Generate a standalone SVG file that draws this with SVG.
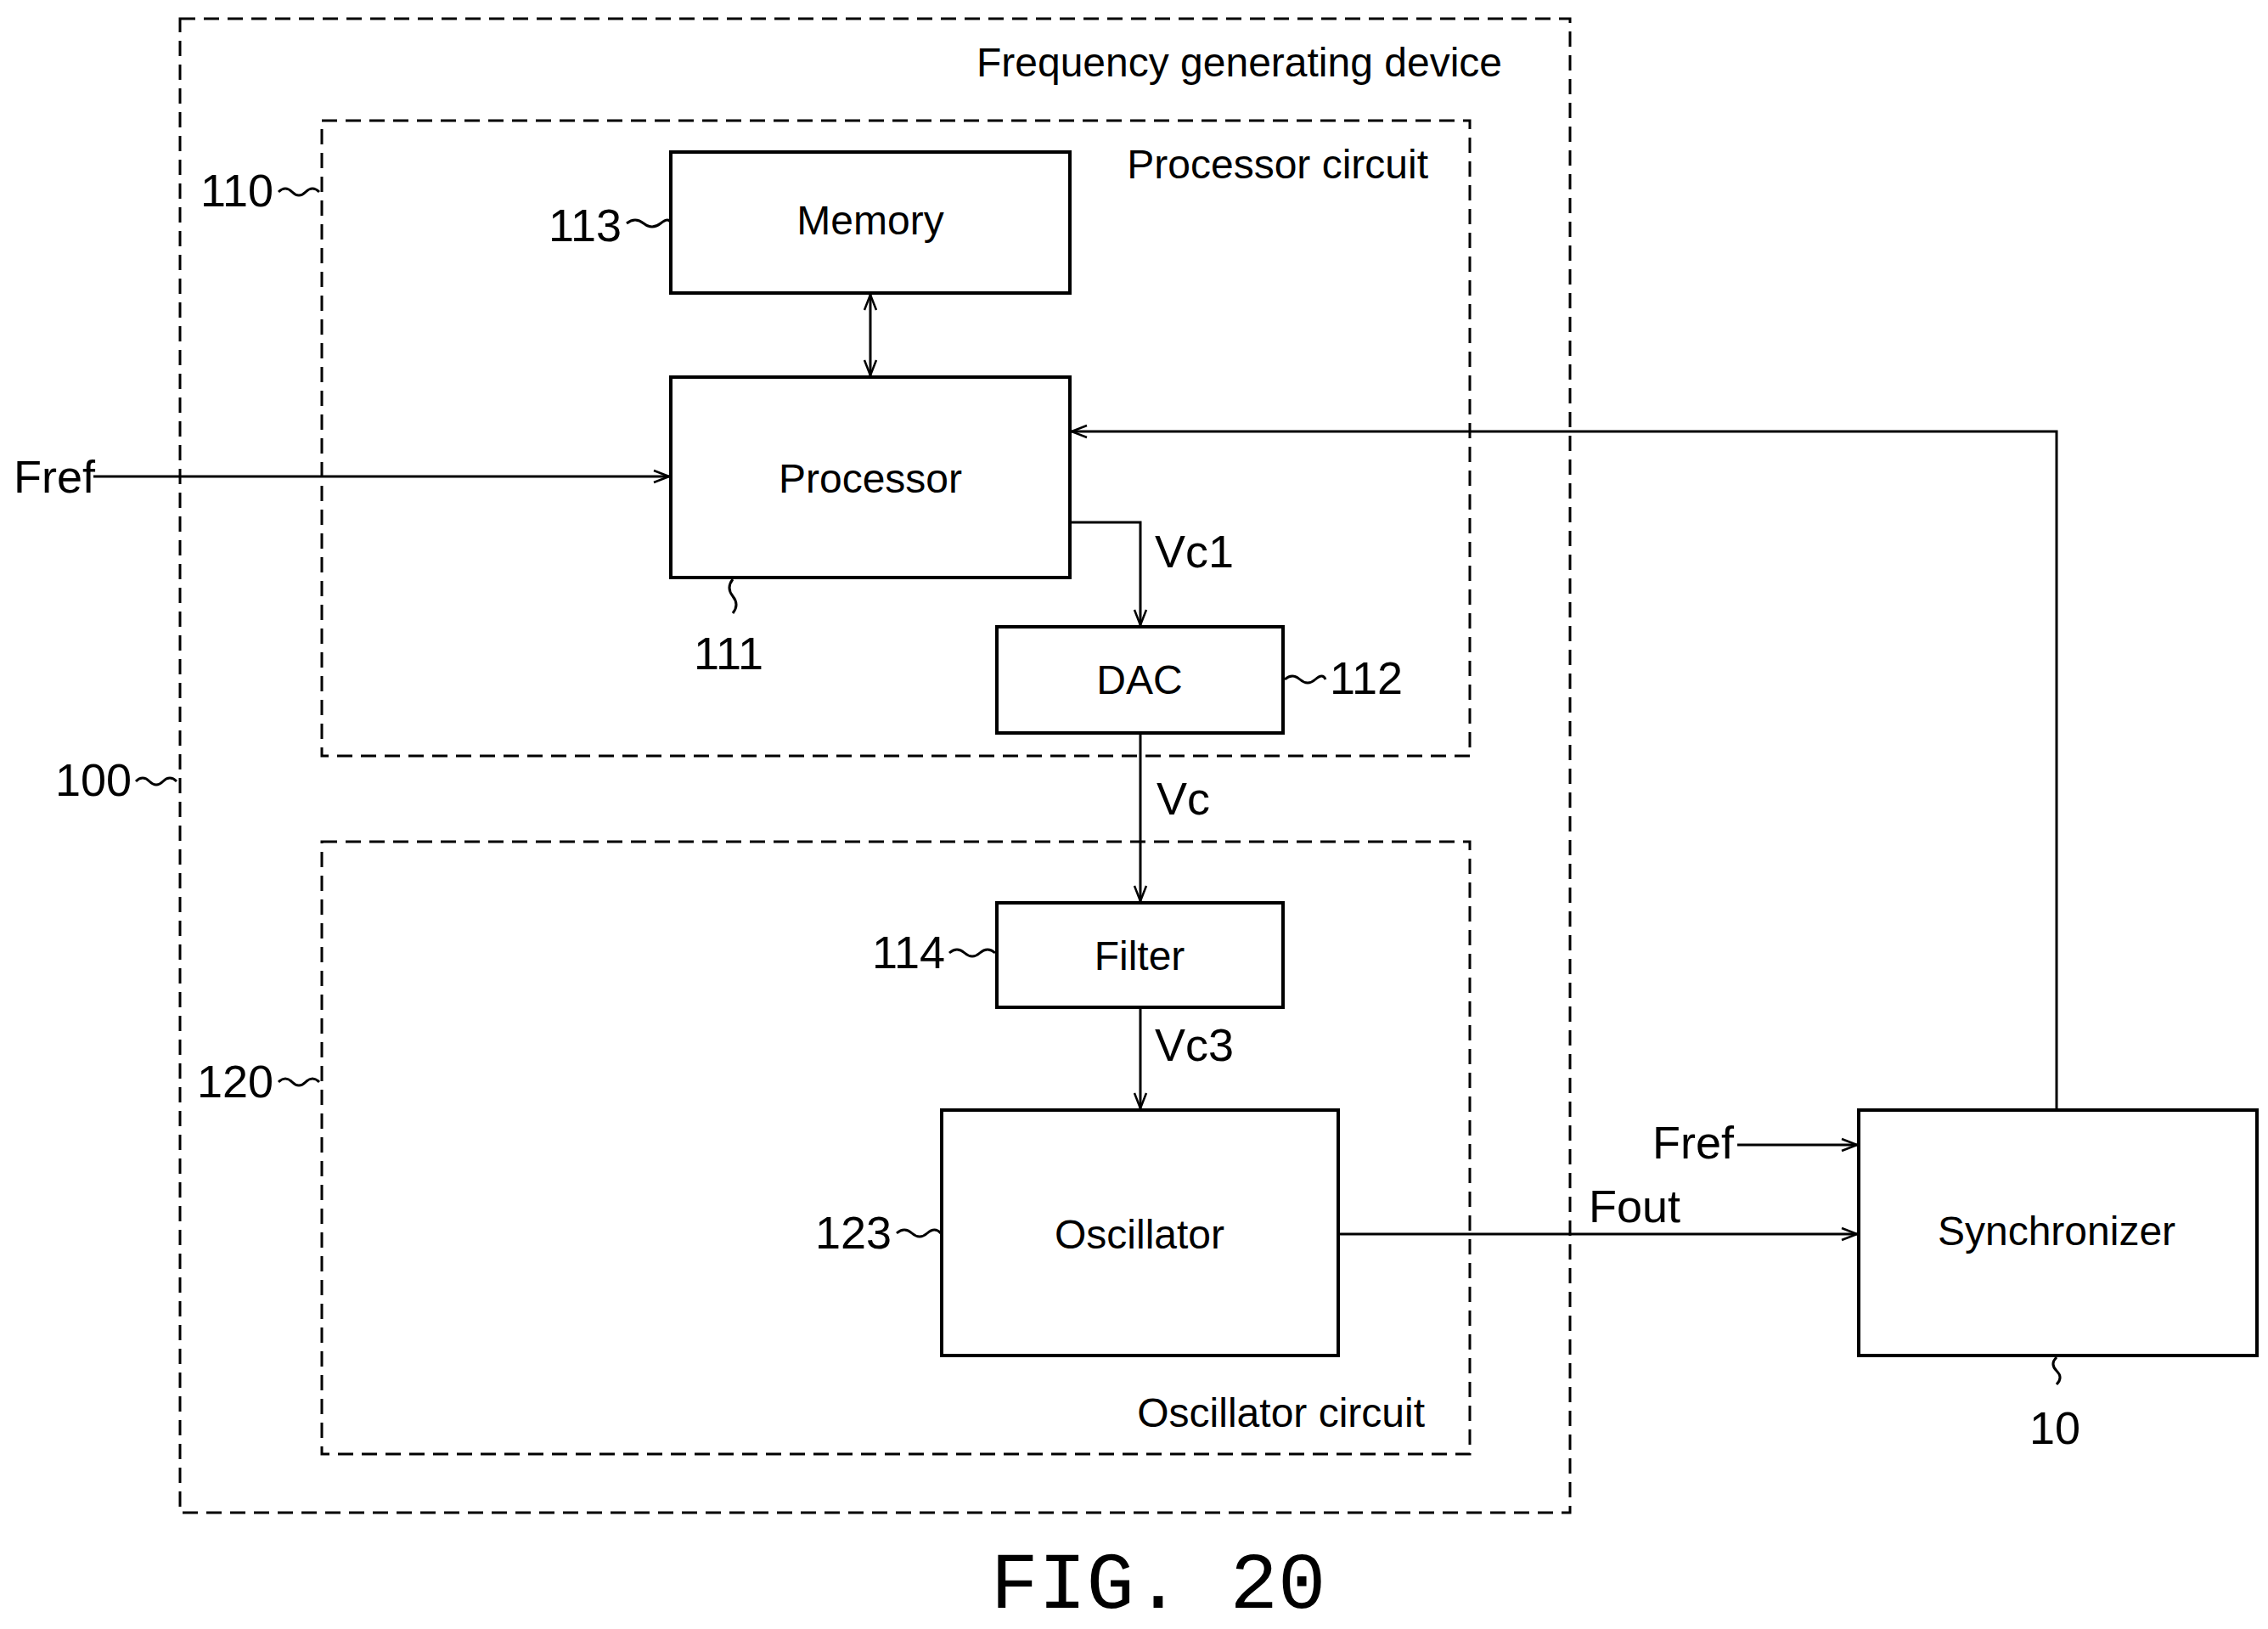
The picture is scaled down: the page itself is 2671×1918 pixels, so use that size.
<svg xmlns="http://www.w3.org/2000/svg" width="2671" height="1918" viewBox="0 0 2671 1918">
<style>
.box{fill:#fff;stroke:#000;stroke-width:4}
.dash{fill:none;stroke:#000;stroke-width:3;stroke-dasharray:18 10}
.ln{fill:none;stroke:#000;stroke-width:3}
.t{font-family:"Liberation Sans",Arial,sans-serif;font-size:48px;fill:#000}
.n{font-size:54px}
.m{text-anchor:middle}
.e{text-anchor:end}
</style>
<defs>
<marker id="a" viewBox="0 0 20 20" refX="19" refY="10" markerWidth="20" markerHeight="20" markerUnits="userSpaceOnUse" orient="auto-start-reverse">
<path d="M1,3 L19,10 L1,17" fill="none" stroke="#000" stroke-width="2.5"/>
</marker>
</defs>
<rect width="2671" height="1918" fill="#fff"/>
<g id="frame100">
<rect class="dash" x="212" y="22" width="1637" height="1759"/>
<text class="t e" x="1769" y="90">Frequency generating device</text>
<text class="t n e" x="155" y="937">100</text>
<path class="ln" d="M160,920 q8,-8 16,0 t16,0 t16,0"/>
</g>
<g id="proc110">
<rect class="dash" x="379" y="142" width="1352" height="748"/>
<text class="t e" x="1682" y="210">Processor circuit</text>
<text class="t n e" x="322" y="243">110</text>
<path class="ln" d="M328,226 q8,-8 16,0 t16,0 t16,0"/>
</g>
<g id="osc120">
<rect class="dash" x="379" y="991" width="1352" height="721"/>
<text class="t e" x="1678" y="1680">Oscillator circuit</text>
<text class="t n e" x="322" y="1292">120</text>
<path class="ln" d="M328,1274 q8,-8 16,0 t16,0 t16,0"/>
</g>
<g id="memory"><rect class="box" x="790" y="179" width="470" height="166"/><text class="t m" x="1025" y="276">Memory</text>
<text class="t n e" x="732" y="284">113</text><path class="ln" d="M738,263 q10,-8 20,0 t20,0 t12,0"/></g>
<g id="processor"><rect class="box" x="790" y="444" width="470" height="236"/><text class="t m" x="1025" y="580">Processor</text>
<text class="t n m" x="858" y="788">111</text><path class="ln" d="M863,682 q-8,10 0,20 t0,20"/></g>
<g id="dac"><rect class="box" x="1174" y="738" width="337" height="125"/><text class="t m" x="1342" y="817">DAC</text>
<text class="t n" x="1566" y="817">112</text><path class="ln" d="M1513,800 q9,-8 18,0 t18,0 t12,0"/></g>
<g id="filter"><rect class="box" x="1174" y="1063" width="337" height="123"/><text class="t m" x="1342" y="1142">Filter</text>
<text class="t n e" x="1113" y="1140">114</text><path class="ln" d="M1118,1122 q9,-8 18,0 t18,0 t18,0"/></g>
<g id="oscillator"><rect class="box" x="1109" y="1307" width="467" height="289"/><text class="t m" x="1342" y="1470">Oscillator</text>
<text class="t n e" x="1050" y="1470">123</text><path class="ln" d="M1056,1452 q9,-8 18,0 t18,0 t16,0"/></g>
<g id="sync"><rect class="box" x="2189" y="1307" width="469" height="289"/><text class="t m" x="2422" y="1466">Synchronizer</text>
<text class="t n m" x="2420" y="1700">10</text><path class="ln" d="M2422,1598 q-8,8 0,16 t0,16"/></g>
<g id="connectors">
<path class="ln" d="M1025,347 L1025,442" marker-start="url(#a)" marker-end="url(#a)"/>
<path class="ln" d="M110,561 L788,561" marker-end="url(#a)"/>
<path class="ln" d="M1260,615 L1343,615 L1343,736" marker-end="url(#a)"/>
<path class="ln" d="M1343,863 L1343,1061" marker-end="url(#a)"/>
<path class="ln" d="M1343,1186 L1343,1305" marker-end="url(#a)"/>
<path class="ln" d="M1576,1453 L2187,1453" marker-end="url(#a)"/>
<path class="ln" d="M2046,1348 L2187,1348" marker-end="url(#a)"/>
<path class="ln" d="M2422,1307 L2422,508 L1262,508" marker-end="url(#a)"/>
<text class="t n" x="16" y="580">Fref</text>
<text class="t n" x="1360" y="668">Vc1</text>
<text class="t n" x="1362" y="959">Vc</text>
<text class="t n" x="1360" y="1249">Vc3</text>
<text class="t n" x="1946" y="1364">Fref</text>
<text class="t n" x="1871" y="1439">Fout</text>
</g>
<text x="1364" y="1893" text-anchor="middle" font-family="Liberation Mono,monospace" font-size="94">FIG. 20</text>
</svg>
